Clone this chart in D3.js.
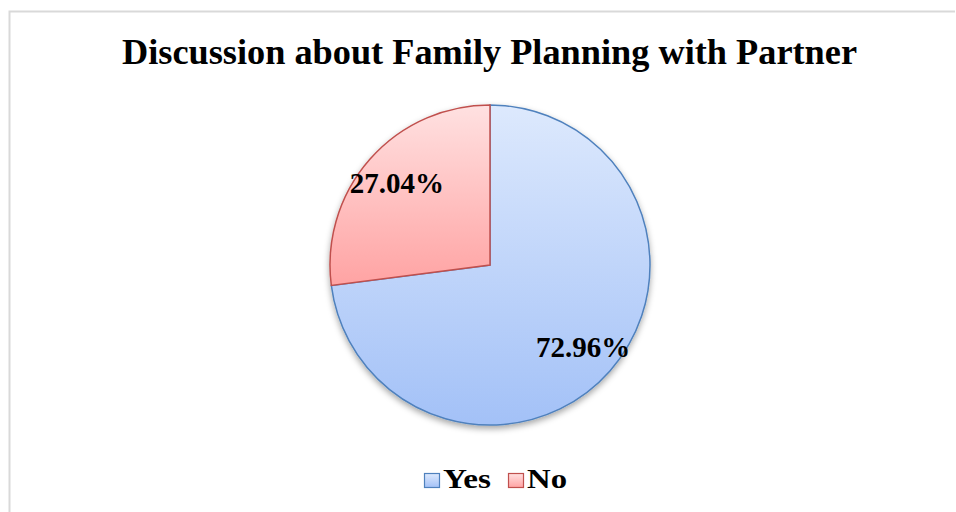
<!DOCTYPE html>
<html>
<head>
<meta charset="utf-8">
<script src="https://cdn.jsdelivr.net/npm/d3@7"></script>
<style>
  body { margin: 0; background: #fff; }
  text { font-family: "Liberation Serif", "Times New Roman", serif; font-weight: bold; fill: #000; }
</style>
</head>
<body>
<div id="chart"></div>
<script>
// data
const categories = ["Yes", "No"];
const values = [72.96, 27.04];
const labels = ["72.96%", "27.04%"];

const width = 956, height = 512;
const cx = 490, cy = 265, radius = 160;

const svg = d3.select("#chart")
  .append("svg")
    .attr("width", width)
    .attr("height", height);

const defs = svg.append("defs");

// gradients for the slices
const grads = {
  Yes: {top: "#dde9fd", bottom: "#a3c1f7", stroke: "#4f81bd"},
  No:  {top: "#ffe1e1", bottom: "#ffa3a3", stroke: "#c0504d"}
};
categories.forEach(c => {
  const g = defs.append("linearGradient")
    .attr("id", "grad-" + c)
    .attr("x1", 0).attr("y1", 0).attr("x2", 0).attr("y2", 1);
  g.append("stop").attr("offset", "0%").attr("stop-color", grads[c].top);
  g.append("stop").attr("offset", "100%").attr("stop-color", grads[c].bottom);
});

const shadow = defs.append("filter")
  .attr("id", "shadow")
  .attr("x", "-20%").attr("y", "-20%").attr("width", "140%").attr("height", "140%");
shadow.append("feDropShadow")
  .attr("dx", 0).attr("dy", 3)
  .attr("stdDeviation", 3)
  .attr("flood-color", "#000")
  .attr("flood-opacity", 0.35);

// chart border
svg.append("path")
  .attr("d", `M9.5,${height} V11.5 H955`)
  .attr("fill", "none")
  .attr("stroke", "#d9d9d9")
  .attr("stroke-width", 2);

// title
svg.append("text")
  .attr("x", 489.5)
  .attr("y", 64)
  .attr("text-anchor", "middle")
  .attr("textLength", 735)
  .attr("lengthAdjust", "spacingAndGlyphs")
  .style("font-size", "35px")
  .text("Discussion about Family Planning with Partner");

const pie = d3.pie().sort(null)(values);
const arc = d3.arc().innerRadius(0).outerRadius(radius);
const labelArc = d3.arc().innerRadius(124).outerRadius(124);

const g = svg.append("g")
  .attr("transform", `translate(${cx},${cy})`);

g.append("g")
  .attr("filter", "url(#shadow)")
  .selectAll("path")
  .data(pie)
  .join("path")
    .attr("d", arc)
    .attr("fill", (d, i) => `url(#grad-${categories[i]})`)
    .attr("stroke", (d, i) => grads[categories[i]].stroke)
    .attr("stroke-width", 1.5);

g.selectAll(".lbl")
  .data(pie)
  .join("text")
    .attr("class", "lbl")
    .attr("transform", d => `translate(${labelArc.centroid(d)})`)
    .attr("text-anchor", "middle")
    .attr("dy", "0.35em")
    .style("font-size", "29px")
    .text((d, i) => labels[i]);

// legend
const legendX = [424, 508];
const legendTextW = [48, 40];
const legend = svg.append("g");
categories.forEach((c, i) => {
  legend.append("rect")
    .attr("x", legendX[i] + 0.5)
    .attr("y", 473.5)
    .attr("width", 15)
    .attr("height", 14)
    .attr("fill", `url(#grad-${c})`)
    .attr("stroke", grads[c].stroke)
    .attr("stroke-width", 1.2);
  legend.append("text")
    .attr("x", legendX[i] + 19)
    .attr("y", 488)
    .attr("textLength", legendTextW[i])
    .attr("lengthAdjust", "spacingAndGlyphs")
    .style("font-size", "27px")
    .text(c);
});
</script>
</body>
</html>
